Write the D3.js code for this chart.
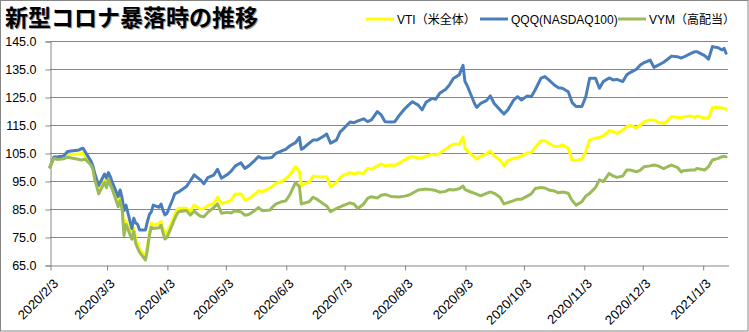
<!DOCTYPE html>
<html>
<head>
<meta charset="utf-8">
<script src="https://cdn.jsdelivr.net/npm/d3@7"></script>
<style>
  html, body { margin: 0; padding: 0; background: #fff; }
  svg { display: block; }
  text { font-family: "Liberation Sans", "Noto Sans CJK JP", sans-serif; }
</style>
</head>
<body>
<svg id="chart" width="749" height="332"></svg>
<script>
// Trading dates (index = 100 on 2020/2/3)
const dates = [
  "2020-02-03","2020-02-05","2020-02-07","2020-02-10","2020-02-12","2020-02-14","2020-02-18","2020-02-19","2020-02-20","2020-02-21",
  "2020-02-24","2020-02-25","2020-02-26","2020-02-27","2020-02-28","2020-03-02","2020-03-03","2020-03-04","2020-03-05","2020-03-06",
  "2020-03-09","2020-03-10","2020-03-11","2020-03-12","2020-03-13","2020-03-16","2020-03-17","2020-03-18","2020-03-19","2020-03-20",
  "2020-03-23","2020-03-24","2020-03-25","2020-03-26","2020-03-27","2020-03-30","2020-03-31","2020-04-01","2020-04-02","2020-04-03",
  "2020-04-06","2020-04-07","2020-04-08","2020-04-09","2020-04-13","2020-04-15","2020-04-17","2020-04-20","2020-04-22","2020-04-24",
  "2020-04-27","2020-04-29","2020-05-01","2020-05-04","2020-05-06","2020-05-08","2020-05-11","2020-05-13","2020-05-15","2020-05-18",
  "2020-05-20","2020-05-22","2020-05-26","2020-05-27","2020-05-29","2020-06-01","2020-06-03","2020-06-05","2020-06-08","2020-06-10",
  "2020-06-11","2020-06-12","2020-06-15","2020-06-17","2020-06-19","2020-06-22","2020-06-24","2020-06-26","2020-06-29","2020-07-01",
  "2020-07-02","2020-07-06","2020-07-08","2020-07-10","2020-07-13","2020-07-15","2020-07-17","2020-07-20","2020-07-22","2020-07-24",
  "2020-07-27","2020-07-29","2020-07-31","2020-08-03","2020-08-05","2020-08-07","2020-08-10","2020-08-12","2020-08-14","2020-08-17",
  "2020-08-19","2020-08-21","2020-08-24","2020-08-26","2020-08-28","2020-08-31","2020-09-02","2020-09-03","2020-09-04","2020-09-08",
  "2020-09-09","2020-09-11","2020-09-14","2020-09-16","2020-09-18","2020-09-21","2020-09-23","2020-09-25","2020-09-28","2020-09-30",
  "2020-10-02","2020-10-05","2020-10-07","2020-10-09","2020-10-12","2020-10-14","2020-10-16","2020-10-19","2020-10-21","2020-10-23",
  "2020-10-26","2020-10-28","2020-10-30","2020-11-02","2020-11-04","2020-11-06","2020-11-09","2020-11-11","2020-11-13","2020-11-16",
  "2020-11-18","2020-11-20","2020-11-23","2020-11-25","2020-11-27","2020-11-30","2020-12-02","2020-12-04","2020-12-07","2020-12-09",
  "2020-12-11","2020-12-14","2020-12-16","2020-12-18","2020-12-21","2020-12-23","2020-12-24","2020-12-28","2020-12-30","2020-12-31",
  "2021-01-04","2021-01-06","2021-01-08","2021-01-11","2021-01-13","2021-01-14","2021-01-15"
];

const vti = [
  100,103.5,103.2,103.7,104.3,104.5,104.6,104.9,104.9,103.9,
  101.3,99.8,96.5,93.8,91.2,95.2,93.6,96.5,94.2,92.8,
  86.8,89.3,86.5,76.8,80.8,75.2,78.2,74.2,72.6,70.6,
  68.0,72.0,76.5,80.0,79.2,79.8,80.5,78.0,76.0,76.5,
  81.0,83.0,84.5,85.3,85.3,84.0,86.4,85.0,85.2,86.2,
  87.0,89.2,87.0,87.5,88.2,90.4,90.4,88.2,88.6,90.2,
  91.5,91.2,92.5,93.0,94.2,94.8,95.8,97.1,100.1,98.3,
  93.2,93.9,94.5,96.8,96.5,96.5,96.5,93.0,94.4,96.3,
  96.8,98.0,97.5,98.0,97.7,99.5,99.2,100.4,101.1,100.4,
  100.7,100.6,101.3,102.5,103.4,103.7,103.2,103.3,103.9,104.5,
  104.3,104.9,106.3,107.3,108.1,108.1,110.6,106.7,105.8,103.5,
  102.8,103.9,104.6,105.8,103.9,102.5,100.4,102.3,103.1,103.3,
  104.0,105.1,105.1,107.0,109.4,109.4,108.5,107.3,107.3,107.9,
  106.7,102.5,102.3,102.8,105.5,109.7,110.3,110.6,111.1,113.0,
  112.6,112.0,113.2,114.4,114.8,114.0,115.0,116.2,116.8,116.8,
  116.0,115.6,116.5,118.0,117.7,117.7,117.9,118.2,117.7,118.2,
  117.5,117.4,121.2,121.3,121.1,121.0,120.6
];

const qqq = [
  100,103.6,103.7,103.9,105.5,105.7,106.1,106.5,106.7,105.5,
  102.1,100.4,97.7,95.5,93.4,97.5,96.0,98.0,96.5,94.5,
  89.4,91.8,89.0,84.5,86.4,78.0,81.7,80.0,79.5,77.5,
  77.5,80.5,83.0,84.0,86.4,85.6,86.8,84.5,82.9,83.4,
  88.5,90.4,90.8,91.1,93.0,95.0,97.2,95.5,94.0,96.2,
  97.1,99.2,96.0,97.3,98.5,100.3,101.5,99.5,100.4,102.3,
  103.7,103.1,103.3,103.5,104.9,105.8,106.3,107.5,108.7,110.6,
  106.3,106.7,108.5,109.6,109.6,110.8,111.8,108.5,109.6,112.6,
  113.2,116.1,115.8,116.5,117.2,116.2,116.8,119.8,118.6,116.2,
  116.1,116.2,118.2,120.7,122.1,123.3,122.1,120.4,123.1,124.5,
  124.2,126.3,127.7,129.3,131.6,132.9,136.3,130.5,129.3,122.5,
  121.3,122.7,123.7,125.4,122.7,120.4,118.9,120.4,123.9,125.1,
  123.9,125.4,125.1,127.5,131.7,132.3,131.1,129.2,128.3,128.1,
  126.9,123.0,121.6,121.6,125.1,131.7,131.7,128.1,130.5,131.8,
  131.1,131.3,130.5,132.9,133.8,134.9,136.4,137.3,138.2,135.6,
  136.3,137.4,138.5,139.6,139.4,138.9,139.2,140.6,141.2,141.2,
  139.8,138.5,143.0,142.6,141.8,142.4,140.6
];

const vym = [
  100,103.1,102.7,102.9,103.5,103.2,102.7,102.5,102.7,102.8,
  100.7,99.3,95.4,93.0,90.4,94.5,92.6,95.8,93.5,92.0,
  85.8,88.0,85.0,75.5,79.5,74.2,77.0,72.7,71.0,69.5,
  66.8,70.5,75.5,78.5,78.0,78.3,79.2,76.5,74.3,74.8,
  79.8,81.5,83.0,84.0,84.5,82.8,84.2,82.5,82.2,83.8,
  85.5,86.8,83.5,83.8,83.6,84.3,84.0,82.8,83.0,84.4,
  85.5,84.4,84.6,85.6,86.8,87.6,87.9,90.0,94.4,93.0,
  86.8,87.0,87.6,89.2,88.5,87.0,86.1,84.0,85.2,85.8,
  86.1,87.2,86.8,85.2,86.8,88.8,89.4,88.9,89.9,90.2,
  89.5,89.4,89.3,89.6,89.9,90.6,91.8,92.0,92.1,91.9,
  91.6,91.0,91.3,92.0,91.8,92.2,93.2,92.0,91.6,90.6,
  90.3,89.7,90.6,91.1,90.6,89.2,86.8,87.3,88.0,88.5,
  88.5,89.6,90.4,92.3,92.7,92.5,91.8,91.4,90.8,91.1,
  90.6,88.0,86.4,87.6,89.6,90.6,92.7,95.4,94.8,97.7,
  96.8,96.3,96.8,98.9,98.9,98.3,98.9,100.1,100.4,100.7,
  100.4,99.4,100.1,100.7,99.9,98.2,98.7,98.9,98.9,99.5,
  98.9,100.1,102.5,103.1,103.7,103.8,103.6
];

const seriesNames = ["VTI（米全体）", "QQQ(NASDAQ100)", "VYM（高配当）"];
const seriesColors = ["#FFFF00", "#4A7EBB", "#9BBB59"];
const yTicks = [65, 75, 85, 95, 105, 115, 125, 135, 145];
const xTickLabels = ["2020/2/3","2020/3/3","2020/4/3","2020/5/3","2020/6/3","2020/7/3",
  "2020/8/3","2020/9/3","2020/10/3","2020/11/3","2020/12/3","2021/1/3"];
const title = "新型コロナ暴落時の推移";

const svg = d3.select("#chart");
const W = 749, H = 332;
const axisColor = "#868686";

// outer chart frame
svg.append("rect")
  .attr("x", 0.5).attr("y", 0.5).attr("width", W - 1.5).attr("height", H - 1.5)
  .attr("fill", "#fff").attr("stroke", axisColor).attr("stroke-width", 1);

const parse = d3.timeParse("%Y-%m-%d");
const parseTick = d3.timeParse("%Y/%m/%d");
const xDates = dates.map(parse);

const x = d3.scaleTime()
  .domain([parse("2020-02-03"), parse("2021-01-16")])
  .range([50, 728]);
const y = d3.scaleLinear().domain([65, 145]).range([265, 41]);

// horizontal gridlines
svg.append("g")
  .selectAll("line")
  .data(yTicks.slice(1))
  .join("line")
  .attr("x1", 50).attr("x2", 728)
  .attr("y1", d => Math.round(y(d)) + 0.5).attr("y2", d => Math.round(y(d)) + 0.5)
  .attr("stroke", axisColor).attr("stroke-width", 1);

// y axis
const yAxis = svg.append("g")
  .attr("transform", "translate(50.5,0.5)")
  .call(d3.axisLeft(y).tickValues(yTicks).tickFormat(d3.format(".1f")).tickSize(5).tickPadding(9));
yAxis.select(".domain").attr("stroke", axisColor);
yAxis.selectAll(".tick line").attr("stroke", axisColor);
yAxis.selectAll(".tick text")
  .attr("fill", "#000").attr("font-size", 12.5)
  .attr("font-family", "'Liberation Sans', sans-serif");

// x axis with rotated date labels
const xTickDates = xTickLabels.map(parseTick);
const xAxis = svg.append("g")
  .attr("transform", "translate(0.5,265.5)")
  .call(d3.axisBottom(x).tickValues(xTickDates).tickFormat((d, i) => xTickLabels[i]).tickSize(5).tickSizeOuter(0));
xAxis.select(".domain").attr("stroke", axisColor);
xAxis.selectAll(".tick line").attr("stroke", axisColor);
xAxis.selectAll(".tick text")
  .attr("fill", "#000").attr("font-size", 13)
  .attr("font-family", "'Liberation Sans', sans-serif")
  .attr("text-anchor", "end")
  .attr("dy", null)
  .attr("y", 0)
  .attr("transform", "translate(8,19) rotate(-45)");

// series lines (later series drawn on top)
const line = d3.line()
  .x((d, i) => x(xDates[i]))
  .y(d => y(d));

const seriesData = [vti, qqq, vym];
svg.append("g")
  .selectAll("path")
  .data(seriesData)
  .join("path")
  .attr("d", d => line(d))
  .attr("fill", "none")
  .attr("stroke", (d, i) => seriesColors[i])
  .attr("stroke-width", 3)
  .attr("stroke-linejoin", "round")
  .attr("stroke-linecap", "round");

// title with soft shadow
const titleG = svg.append("g");
titleG.append("text")
  .attr("x", 6).attr("y", 27)
  .attr("font-family", "'Noto Sans CJK JP', sans-serif")
  .attr("font-weight", 700).attr("font-size", 23)
  .attr("fill", "#a0a0a0")
  .text(title);
titleG.append("text")
  .attr("x", 5).attr("y", 26)
  .attr("font-family", "'Noto Sans CJK JP', sans-serif")
  .attr("font-weight", 700).attr("font-size", 23)
  .attr("fill", "#000")
  .text(title);

// legend
const legendX = [366, 480, 618];
const legend = svg.append("g");
seriesNames.forEach((name, i) => {
  legend.append("line")
    .attr("x1", legendX[i]).attr("x2", legendX[i] + 28)
    .attr("y1", 19).attr("y2", 19)
    .attr("stroke", seriesColors[i]).attr("stroke-width", 3);
  legend.append("text")
    .attr("x", legendX[i] + 31).attr("y", 23.5)
    .attr("font-size", 12).attr("fill", "#000")
    .text(name);
});
</script>
</body>
</html>
